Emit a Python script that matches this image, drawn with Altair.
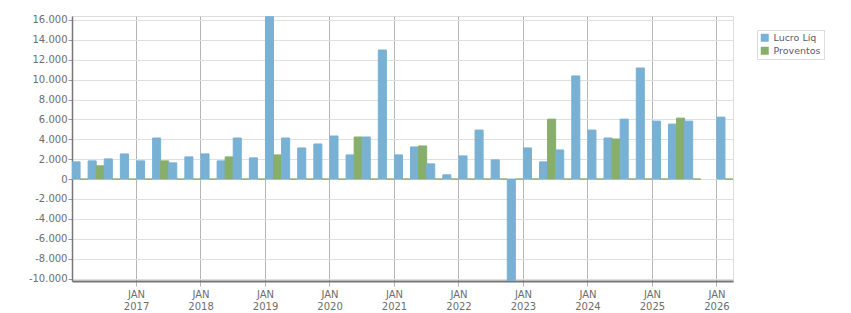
import altair as alt
import pandas as pd

# Quarterly results, first quarter of 2016 through first quarter of 2026
years = list(range(2016, 2027))
quarters = [f"{y}-T{q}" for y in years for q in (1, 2, 3, 4)][:41]

lucro_liq = [
    1730, 1830, 2030, 2530,
    1830, 4130, 1630, 2230,
    2530, 1830, 4130, 2130,
    16330, 4130, 3130, 3530,
    4330, 2430, 4230, 12980,
    2430, 3230, 1530, 430,
    2330, 4930, 1930, -10250,
    3130, 1730, 2930, 10370,
    4930, 4130, 6030, 11170,
    5830, 5530, 5830, None,
    6230,
]
proventos = [
    0, 1330, 0, 0,
    0, 1830, 0, 0,
    0, 2230, 0, 0,
    2430, 0, 0, 0,
    0, 4230, 0, 0,
    0, 3330, 0, 0,
    0, 0, 0, 0,
    0, 6030, 0, 0,
    0, 4030, 0, 0,
    0, 6130, 0, None,
    0,
]

series = ["Lucro Líq", "Proventos"]
colors = ["#79b1d4", "#88ae6b"]
year_ticks = [f"{y}-T1" for y in range(2017, 2027)]
y_ticks = list(range(-10000, 16001, 2000))

rows = []
for q, a, b in zip(quarters, lucro_liq, proventos):
    rows.append({"trimestre": q, "serie": series[0], "valor": a})
    rows.append({"trimestre": q, "serie": series[1], "valor": b})
df = pd.DataFrame(rows)

FONT = "DejaVu Sans"
color_scale = alt.Scale(domain=series, range=colors)

chart = (
    alt.Chart(df)
    .mark_bar(strokeWidth=1, clip=True)
    .encode(
        x=alt.X(
            "trimestre:N",
            sort=quarters,
            scale=alt.Scale(domain=quarters, paddingInner=0, paddingOuter=0),
            axis=alt.Axis(
                values=year_ticks,
                bandPosition=0,
                labelExpr="['JAN', slice(datum.value, 0, 4)]",
                labelAngle=0,
                labelAlign="center",
                labelBaseline="top",
                labelLineHeight=12,
                labelPadding=3,
                labelOffset=-8,
                labelFont=FONT,
                labelFontSize=10,
                labelColor="#6e6e6e",
                grid=True,
                gridColor="#b5b5b5",
                gridWidth=1,
                tickColor="#b5b5b5",
                tickSize=5,
                domainColor="#777777",
                domainWidth=2,
                title=None,
            ),
        ),
        xOffset=alt.XOffset(
            "serie:N",
            sort=series,
            scale=alt.Scale(domain=series, paddingInner=0, paddingOuter=0),
        ),
        y=alt.Y(
            "valor:Q",
            scale=alt.Scale(domain=[-10250, 16400], nice=False, zero=True),
            axis=alt.Axis(
                values=y_ticks,
                labelExpr="(datum.value < 0 ? '-' : '') + replace(format(abs(datum.value), ','), ',', '.')",
                labelFont=FONT,
                labelFontSize=10,
                labelColor="#6e6e6e",
                labelPadding=1,
                grid=True,
                gridColor="#e0e0e0",
                gridWidth=1,
                tickColor="#9a9a9a",
                tickSize=4,
                domainColor="#777777",
                domainWidth=1.5,
                title=None,
            ),
        ),
        color=alt.Color(
            "serie:N",
            sort=series,
            scale=color_scale,
            legend=alt.Legend(
                title=None,
                orient="none",
                legendX=685,
                legendY=14,
                symbolType="square",
                symbolSize=64,
                symbolStrokeWidth=0,
                labelFont=FONT,
                labelFontSize=9.5,
                labelColor="#5c5c6a",
                labelOffset=4,
                rowPadding=2,
                padding=3,
                strokeColor="#dcdcdc",
                fillColor="#ffffff",
            ),
        ),
        stroke=alt.Stroke("serie:N", sort=series, scale=color_scale, legend=None),
    )
    .properties(
        width=661,
        height=265,
        autosize=alt.AutoSizeParams(type="none"),
        padding={"left": 72, "top": 16, "right": 118, "bottom": 32},
    )
    .configure_view(stroke="#dcdcdc", strokeWidth=1)
    .configure(background="#ffffff")
)

chart.save("out.html", embed_options={"renderer": "svg", "actions": False})
